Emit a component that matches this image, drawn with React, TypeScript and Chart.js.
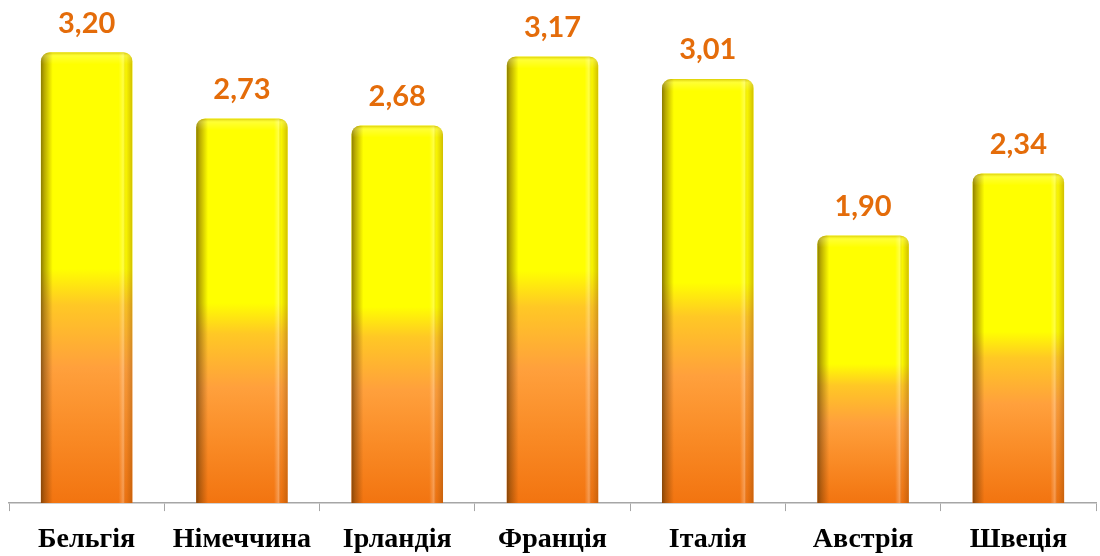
import React, { useEffect, useRef } from "react";
import { Chart, registerables } from "chart.js";

Chart.register(...registerables);

const categories = ["Бельгія", "Німеччина", "Ірландія", "Франція", "Італія", "Австрія", "Швеція"];
const values = [3.2, 2.73, 2.68, 3.17, 3.01, 1.9, 2.34];

const barShade = {
  id: "barShade",
  afterDatasetsDraw(chart: any) {
    const ctx = chart.ctx;
    const meta = chart.getDatasetMeta(0);
    meta.data.forEach((el: any, i: number) => {
      const { x, y, base, width } = el.getProps(["x", "y", "base", "width"], true);
      const left = x - width / 2;
      const right = x + width / 2;
      ctx.save();
      ctx.beginPath();
      (ctx as any).roundRect(left, y, width, base - y, [9, 9, 0, 0]);
      ctx.clip();
      const g = ctx.createLinearGradient(left, 0, right, 0);
      g.addColorStop(0, "rgba(60,35,0,0.6)");
      g.addColorStop(0.04, "rgba(80,45,0,0.4)");
      g.addColorStop(0.13, "rgba(90,45,0,0.0)");
      g.addColorStop(0.85, "rgba(255,255,255,0.0)");
      g.addColorStop(0.9, "rgba(255,255,255,0.28)");
      g.addColorStop(0.93, "rgba(120,60,0,0.05)");
      g.addColorStop(1, "rgba(110,55,0,0.32)");
      ctx.fillStyle = g;
      ctx.fillRect(left, y, width, base - y);
      const t = ctx.createLinearGradient(0, y, 0, y + 12);
      t.addColorStop(0, "rgba(150,110,0,0.35)");
      t.addColorStop(0.3, "rgba(255,255,255,0.2)");
      t.addColorStop(1, "rgba(255,255,255,0)");
      ctx.fillStyle = t;
      ctx.fillRect(left, y, width, 12);
      ctx.restore();

      ctx.save();
      ctx.fillStyle = "#E46C0A";
      ctx.font = "bold 29px Lato, 'Liberation Sans', sans-serif";
      ctx.textAlign = "center";
      ctx.textBaseline = "middle";
      ctx.fillText(values[i].toFixed(2).replace(".", ","), x, y - 29);
      ctx.restore();
    });
  },
};

export default function App() {
  const ref = useRef<HTMLCanvasElement>(null);
  useEffect(() => {
    document.body.style.margin = "0";
    const c = new Chart(ref.current!, {
      type: "bar",
      data: {
        labels: categories,
        datasets: [
          {
            data: values,
            backgroundColor: (context: any) => {
              const chart = context.chart;
              const ys = chart.scales?.y;
              if (!ys || !chart.chartArea) return "#FFFF00";
              const top = ys.getPixelForValue(context.raw);
              const bottom = ys.getPixelForValue(0);
              const g = chart.ctx.createLinearGradient(0, bottom, 0, top);
              g.addColorStop(0, "#F27410");
              g.addColorStop(0.15, "#F98A25");
              g.addColorStop(0.3, "#FFA03C");
              g.addColorStop(0.44, "#FFC825");
              g.addColorStop(0.52, "#FFFF00");
              g.addColorStop(1, "#FFFF00");
              return g;
            },
            borderWidth: 0,
            borderRadius: { topLeft: 9, topRight: 9, bottomLeft: 0, bottomRight: 0 },
            borderSkipped: false,
            categoryPercentage: 1,
            barPercentage: 0.59,
          },
        ],
      },
      options: {
        animation: false,
        responsive: false,
        devicePixelRatio: 1,
        layout: { padding: { left: 9, right: 4, top: 10, bottom: -13 } },
        plugins: { legend: { display: false }, tooltip: { enabled: false } },
        scales: {
          y: { display: false, min: 0, max: 3.5 },
          x: {
            grid: {
              drawOnChartArea: false,
              drawTicks: true,
              tickLength: 8,
              color: "#A6A6A6",
              offset: true,
            },
            border: { color: "#A6A6A6", width: 1.5 },
            ticks: {
              color: "#000000",
              padding: 13,
              font: { family: "'Liberation Serif', 'Times New Roman', serif", size: 28, weight: "bold", lineHeight: 1.14 },
            },
          },
        },
      },
      plugins: [barShade],
    });
    return () => c.destroy();
  }, []);
  return (
    <div style={{ width: 1100, height: 556 }}>
      <canvas ref={ref} width={1100} height={556} style={{ display: "block" }} />
    </div>
  );
}
